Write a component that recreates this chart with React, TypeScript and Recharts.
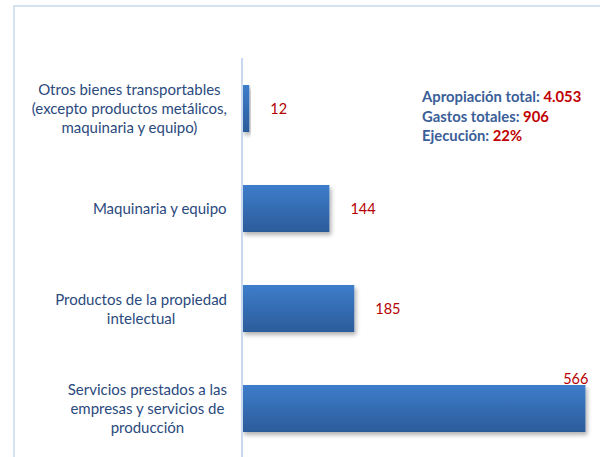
import React from "react";
import { BarChart, Bar, XAxis, YAxis, LabelList } from "recharts";

const categories = [
  "Otros bienes transportables\n(excepto productos metálicos,\nmaquinaria y equipo)",
  "Maquinaria y equipo",
  "Productos de la propiedad\nintelectual",
  "Servicios prestados a las\nempresas y servicios de\nproducción",
];
const values = [12, 144, 185, 566];
const infoLabels = ["Apropiación total: ", "Gastos totales: ", "Ejecución: "];
const infoValues = ["4.053", "906", "22%"];

const data = categories.map((c, i) => ({ name: c, value: values[i] }));

const W = 600;
const H = 457;
const FONT = "Lato, 'Open Sans', sans-serif";
const CAT_SIZE = 15;
const VAL_SIZE = 14.5;

let ctx: CanvasRenderingContext2D | null = null;
function measure(text: string, size: number, weight = "normal") {
  if (!ctx) {
    const c = document.createElement("canvas");
    ctx = c.getContext("2d");
  }
  if (!ctx) return text.length * size * 0.5;
  ctx.font = `${weight} ${size}px Lato`;
  return ctx.measureText(text).width;
}

const CatTick = (props: any) => {
  const { x, y, payload } = props;
  const lines: string[] = String(payload.value).split("\n");
  const maxW = Math.max(...lines.map((l) => measure(l, CAT_SIZE)));
  const right = x - 15;
  const cx = right - maxW / 2;
  const lh = 19;
  const y0 = y - ((lines.length - 1) * lh) / 2;
  return (
    <g>
      {lines.map((l, i) => (
        <text
          key={i}
          x={cx}
          y={y0 + i * lh}
          textAnchor="middle"
          dominantBaseline="central"
          fill="#2b4a7e"
          fontSize={CAT_SIZE}
          fontFamily={FONT}
        >
          {l}
        </text>
      ))}
    </g>
  );
};

const ValueLabel = (props: any) => {
  const { x, y, width, height, value } = props;
  const txt = String(value);
  const tw = measure(txt, VAL_SIZE);
  const end = x + width;
  if (end + 21 + tw > W - 5) {
    return (
      <text
        x={end + 3}
        y={y - 7}
        textAnchor="end"
        dominantBaseline="central"
        fill="#b40000"
        fontSize={VAL_SIZE}
        fontFamily={FONT}
      >
        {txt}
      </text>
    );
  }
  return (
    <text
      x={end + 21}
      y={y + height / 2}
      textAnchor="start"
      dominantBaseline="central"
      fill="#b40000"
      fontSize={VAL_SIZE}
      fontFamily={FONT}
    >
      {txt}
    </text>
  );
};

export default function App() {
  return (
    <div style={{ position: "absolute", left: 0, top: 0, width: W, height: H, overflow: "hidden", background: "#fff" }}>
      <div
        style={{
          position: "absolute",
          left: 13,
          top: 5,
          width: W,
          height: H,
          borderLeft: "2px solid #d6e2f1",
          borderTop: "2px solid #d6e2f1",
        }}
      />
      <div style={{ position: "absolute", left: 0, top: 0 }}>
        <BarChart
          width={W}
          height={H}
          data={data}
          layout="vertical"
          margin={{ top: 58, right: 0, bottom: -1, left: 0 }}
        >
          <defs>
            <linearGradient id="barGrad" x1="0" y1="0" x2="0" y2="1">
              <stop offset="0%" stopColor="#3d7dcb" />
              <stop offset="100%" stopColor="#2c5c9a" />
            </linearGradient>
            <filter id="shadow" x="-10%" y="-20%" width="130%" height="160%">
              <feDropShadow dx="2" dy="3" stdDeviation="2.2" floodColor="#000" floodOpacity="0.3" />
            </filter>
          </defs>
          <XAxis type="number" hide domain={[0, 590]} />
          <YAxis
            type="category"
            dataKey="name"
            width={242}
            axisLine={{ stroke: "#c8d9ef", strokeWidth: 2 }}
            tickLine={false}
            tickSize={0}
            tickMargin={0}
            tick={<CatTick />}
            interval={0}
          />
          <Bar
            dataKey="value"
            fill="url(#barGrad)"
            barSize={47}
            isAnimationActive={false}
            style={{ filter: "url(#shadow)" }}
          >
            <LabelList dataKey="value" content={<ValueLabel />} />
          </Bar>
        </BarChart>
      </div>
      <div
        style={{
          position: "absolute",
          left: 422,
          top: 87,
          fontFamily: FONT,
          fontSize: 14.8,
          fontWeight: "bold",
          lineHeight: "19.5px",
          color: "#3a5e98",
          whiteSpace: "nowrap",
        }}
      >
        {infoLabels.map((l, i) => (
          <div key={i}>
            {l}
            <span style={{ color: "#c00000" }}>{infoValues[i]}</span>
          </div>
        ))}
      </div>
    </div>
  );
}
